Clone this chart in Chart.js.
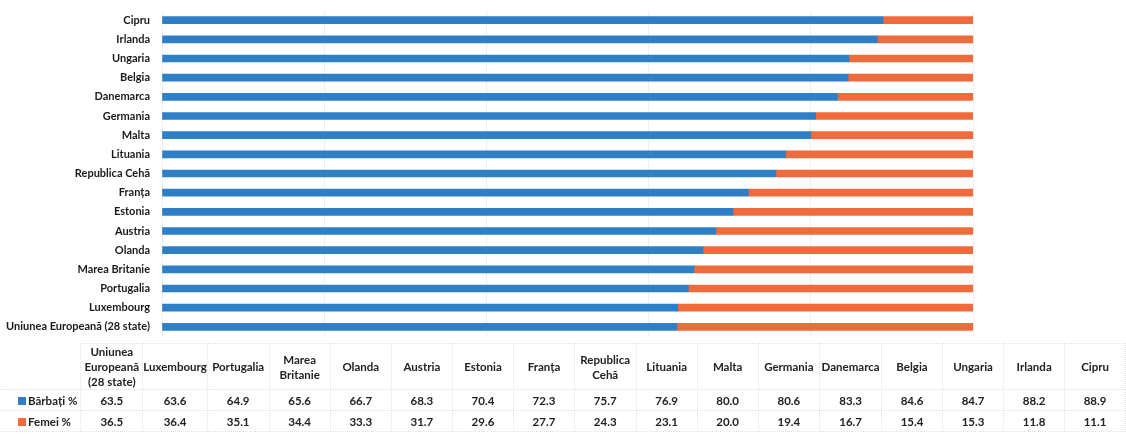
<!DOCTYPE html>
<html>
<head>
<meta charset="utf-8">
<script src="https://cdn.jsdelivr.net/npm/chart.js@4/dist/chart.umd.min.js"></script>
<style>
    body { margin: 0; background: #fff; font-family: Lato, "Open Sans", sans-serif; }
    #wrap { position: relative; width: 1126px; height: 434px; overflow: hidden; }
    #chart { position: absolute; left: 0; top: 0; }
    table {
        position: absolute; left: 0; top: 343px;
        border-collapse: collapse; table-layout: fixed;
        font-weight: bold; font-size: 11.5px; color: #222;
    }
    td { text-align: center; padding: 0; border: 1px dotted #e2e2e2; }
    tr.head td { height: 45px; line-height: 15px; }
    tr.val td { height: 20px; }
    td.leg { text-align: left; border-left: none; padding-left: 18px; white-space: nowrap; }
    tr.head td.leg { border: none; }
    .sw { display: inline-block; width: 8px; height: 8px; margin-right: 2px; vertical-align: 0; }
</style>
</head>
<body>
<div id="wrap">
    <canvas id="chart" width="1126" height="347"></canvas>
    <table id="tbl"></table>
</div>
<script>
// categories in table order (bottom bar first)
const categories = ['Uniunea Europeană (28 state)', 'Luxembourg', 'Portugalia', 'Marea Britanie', 'Olanda',
    'Austria', 'Estonia', 'Franța', 'Republica Cehă', 'Lituania', 'Malta', 'Germania', 'Danemarca',
    'Belgia', 'Ungaria', 'Irlanda', 'Cipru'];
// header text for the data table (line breaks as in the picture)
const tableHeads = ['Uniunea<br>Europeană<br>(28 state)', 'Luxembourg', 'Portugalia', 'Marea<br>Britanie', 'Olanda',
    'Austria', 'Estonia', 'Franța', 'Republica<br>Cehă', 'Lituania', 'Malta', 'Germania', 'Danemarca',
    'Belgia', 'Ungaria', 'Irlanda', 'Cipru'];
const barbati = [63.5, 63.6, 64.9, 65.6, 66.7, 68.3, 70.4, 72.3, 75.7, 76.9, 80.0, 80.6, 83.3, 84.6, 84.7, 88.2, 88.9];
const femei = [36.5, 36.4, 35.1, 34.4, 33.3, 31.7, 29.6, 27.7, 24.3, 23.1, 20.0, 19.4, 16.7, 15.4, 15.3, 11.8, 11.1];
const seriesNames = ['Bărbați %', 'Femei %'];

const BLUE = '#2f7fc6';
const ORANGE = '#ef6b3b';

new Chart(document.getElementById('chart'), {
    type: 'bar',
    data: {
        labels: categories,
        datasets: [
            { label: seriesNames[0], data: barbati, backgroundColor: BLUE, barThickness: 7 },
            { label: seriesNames[1], data: femei, backgroundColor: ORANGE, barThickness: 7 }
        ]
    },
    options: {
        responsive: false,
        animation: false,
        indexAxis: 'y',
        layout: { padding: { top: 0, bottom: 5, right: 153, left: 0 } },
        plugins: { legend: { display: false }, tooltip: { enabled: false } },
        scales: {
            x: {
                stacked: true, min: 0, max: 100,
                afterFit: (axis) => { axis.height = 0; },
                ticks: { display: false, stepSize: 20 },
                grid: { color: '#efefef', drawTicks: false },
                border: { display: false }
            },
            y: {
                stacked: true, reverse: true,
                afterFit: (axis) => { axis.width = 162; },
                grid: { display: false },
                border: { display: false },
                ticks: { color: '#1a1a1a', padding: 4, font: { family: 'Lato', size: 11, weight: 'bold' } }
            }
        }
    }
});

// data table under the chart
const tbl = document.getElementById('tbl');
const colW = 62.1;
let html = '<colgroup><col style="width:81px">' + categories.map(() => `<col style="width:${colW}px">`).join('') + '</colgroup>';
html += '<tr class="head"><td class="leg"></td>' + tableHeads.map(h => `<td>${h}</td>`).join('') + '</tr>';
[[barbati, BLUE], [femei, ORANGE]].forEach(([vals, col], i) => {
    html += `<tr class="val"><td class="leg"><span class="sw" style="background:${col}"></span>${seriesNames[i]}</td>` +
        vals.map(v => `<td>${v.toFixed(1)}</td>`).join('') + '</tr>';
});
tbl.innerHTML = html;
</script>
</body>
</html>
